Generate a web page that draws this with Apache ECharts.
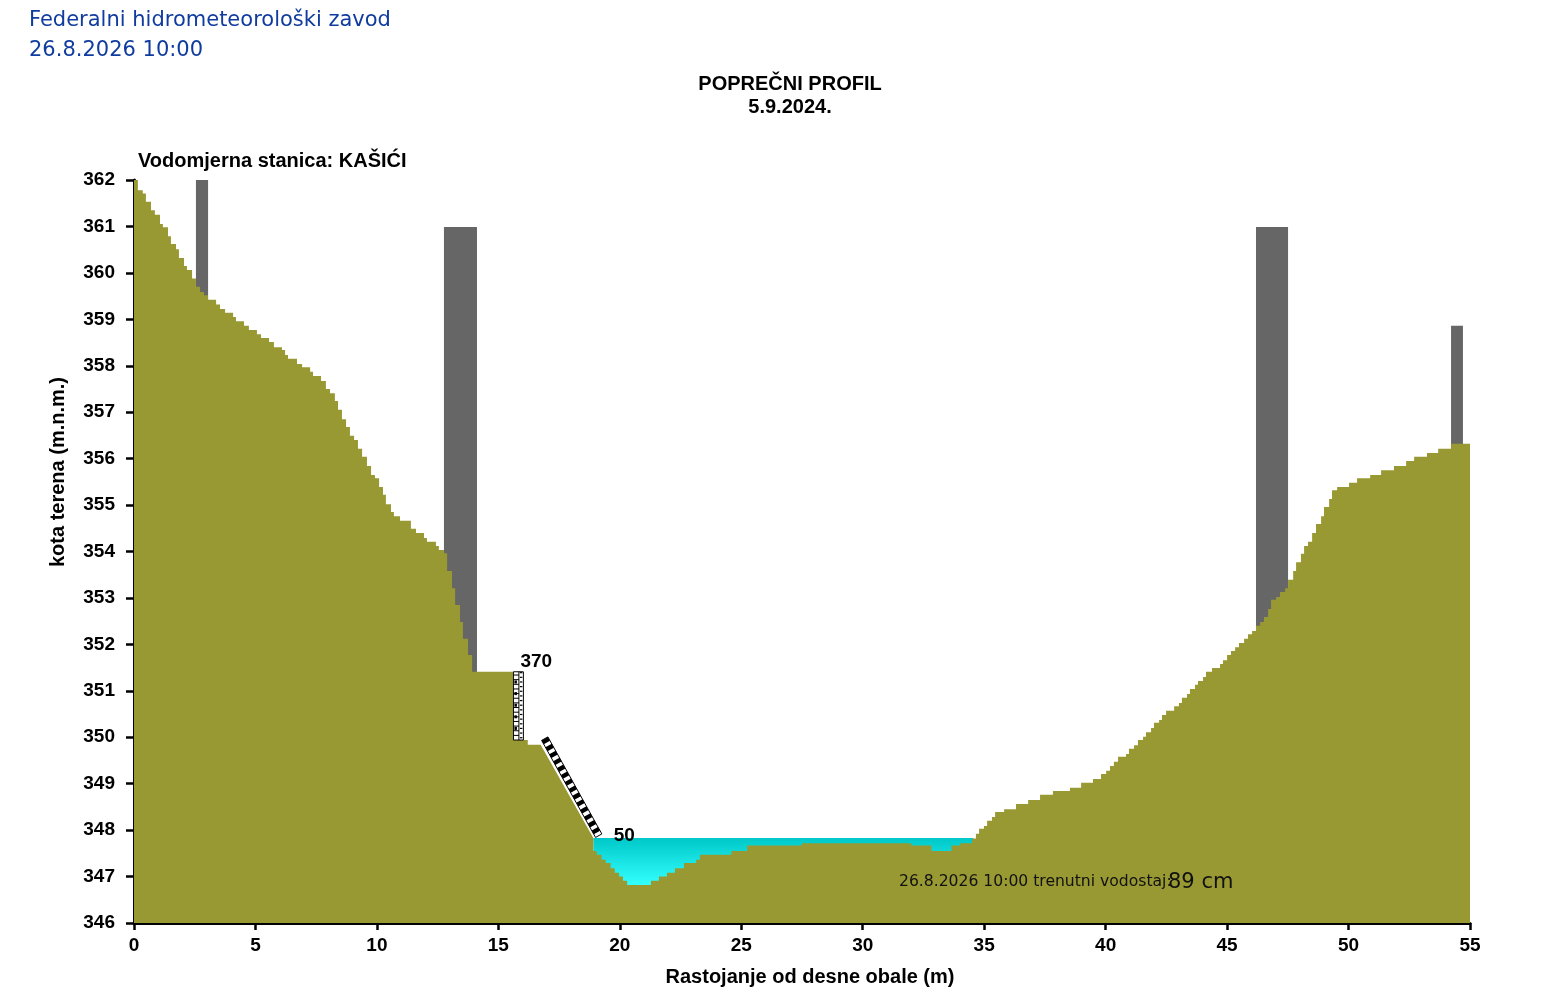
<!DOCTYPE html>
<html>
<head>
<meta charset="utf-8">
<title>Poprečni profil - KAŠIĆI</title>
<script src="https://cdn.jsdelivr.net/npm/echarts@6.0.0/dist/echarts.min.js"></script>
<style>
    html, body { margin: 0; padding: 0; background: #fff; }
    #profil { width: 1550px; height: 1000px; }
</style>
</head>
<body>
<div id="profil"></div>
<script>
// lijeva obala: stacionaža (m) i kota (m.n.m.), stepenasti profil
const obalaX = [0, 0.16, 0.36, 0.49, 0.70, 0.86, 1.07, 1.19, 1.40, 1.52, 1.73, 1.85, 2.06, 2.18, 2.39, 2.55,
    2.72, 2.88, 3.05, 3.38, 3.54, 3.75, 4.08, 4.20, 4.53, 4.73, 5.06, 5.23, 5.56, 5.76, 6.09, 6.22, 6.34,
    6.71, 6.92, 7.25, 7.37, 7.70, 7.90, 8.07, 8.27, 8.40, 8.56, 8.73, 8.89, 9.06, 9.22, 9.39, 9.59, 9.76,
    9.92, 10.09, 10.25, 10.37, 10.58, 10.70, 10.95, 11.40, 11.61, 11.94, 12.06, 12.43, 12.55, 12.76, 12.89,
    13.09, 13.22, 13.42, 13.54, 13.75, 13.92, 15.60, 16.21];
const obalaY = [362.00, 361.78, 361.71, 361.53, 361.35, 361.25, 361.05, 360.98, 360.79, 360.62, 360.51, 360.32,
    360.15, 360.06, 359.88, 359.70, 359.59, 359.52, 359.42, 359.32, 359.22, 359.14, 359.05, 358.96, 358.86,
    358.77, 358.68, 358.60, 358.51, 358.40, 358.34, 358.23, 358.15, 358.04, 357.97, 357.87, 357.78, 357.67,
    357.50, 357.41, 357.24, 357.05, 356.85, 356.68, 356.49, 356.40, 356.21, 356.04, 355.84, 355.65, 355.58,
    355.39, 355.22, 355.02, 354.85, 354.76, 354.66, 354.49, 354.40, 354.29, 354.21, 354.12, 354.03, 353.96,
    353.58, 353.21, 352.85, 352.48, 352.12, 351.77, 351.41, 349.94, 349.84];

// kosina ispod kose letve
const kosinaX = [16.74, 18.91];
const kosinaY = [349.84, 347.83];

// korito i desna obala
const koritoX = [18.91, 19.05, 19.25, 19.42, 19.62, 19.79, 19.97, 20.13, 20.30, 21.28, 21.61, 21.94, 22.27,
    22.64, 23.14, 23.30, 24.59, 25.24, 27.49, 32.00, 32.83, 33.65, 34.01, 34.50, 34.66, 34.79, 34.99, 35.12,
    35.32, 35.45, 35.82, 36.31, 36.81, 37.30, 37.83, 38.53, 38.99, 39.48, 39.81, 40.02, 40.18, 40.34, 40.51,
    40.84, 40.96, 41.17, 41.33, 41.54, 41.66, 41.87, 41.99, 42.20, 42.32, 42.49, 42.82, 43.02, 43.14, 43.35,
    43.47, 43.68, 43.80, 44.01, 44.13, 44.38, 44.71, 44.83, 45.00, 45.16, 45.33, 45.49, 45.70, 45.86, 46.03,
    46.19, 46.36, 46.52, 46.69, 46.81, 47.02, 47.18, 47.39, 47.51, 47.72, 47.84, 48.04, 48.17, 48.33, 48.50,
    48.66, 48.87, 48.99, 49.20, 49.32, 49.53, 50.02, 50.35, 50.89, 51.34, 51.87, 52.37, 52.70, 53.23, 53.69,
    54.22];
const koritoY = [347.55, 347.47, 347.36, 347.29, 347.18, 347.08, 347.00, 346.91, 346.82, 346.91, 347.00, 347.08,
    347.18, 347.29, 347.36, 347.47, 347.55, 347.67, 347.72, 347.67, 347.55, 347.67, 347.72, 347.82, 347.92,
    348.03, 348.09, 348.20, 348.28, 348.39, 348.45, 348.56, 348.65, 348.76, 348.84, 348.91, 349.02, 349.10,
    349.21, 349.28, 349.38, 349.47, 349.58, 349.64, 349.75, 349.83, 349.94, 350.01, 350.11, 350.20, 350.31,
    350.37, 350.48, 350.57, 350.67, 350.74, 350.85, 350.93, 351.04, 351.13, 351.21, 351.30, 351.41, 351.49,
    351.58, 351.66, 351.77, 351.86, 351.94, 352.03, 352.12, 352.22, 352.29, 352.40, 352.48, 352.59, 352.76,
    352.96, 353.02, 353.13, 353.21, 353.39, 353.58, 353.77, 353.95, 354.12, 354.21, 354.40, 354.59, 354.76,
    354.96, 355.13, 355.32, 355.39, 355.48, 355.58, 355.65, 355.75, 355.84, 355.95, 356.04, 356.12, 356.21,
    356.32];
const krajX = 55;

// stubovi / objekti: [od, do, kota vrha]
const stubovi = [
    [2.55, 3.05, 362.00],
    [12.76, 14.12, 360.99],
    [46.19, 47.51, 360.99],
    [54.22, 54.71, 358.86]
];

// voda: [od, do, kota vodostaja, kota dna]
const voda = [[18.91, 34.55, 347.83, 346.82]];

// letve: vertikalna [od, do, vrh, dno], kosa [x1, y1, x2, y2]
const letvaV = [[15.62, 16.03, 351.41, 349.94]];
const letvaK = [[16.91, 349.97, 19.13, 347.88]];
const letvaVTekst = '370';
const letvaKTekst = '50';

const xTicks = { min: 0, max: 55, interval: 5 };
const yTicks = { min: 346, max: 362, interval: 1 };

const datum = '26.8.2026 10:00';
const vodostaj = '89 cm';

const boldFont = '"Liberation Sans", Arial, sans-serif';
const plava = '#0f3c9e';

function stepenice(xs, ys, xKraj) {
    const pts = [];
    xs.forEach(function(x, i) {
        const x2 = i < xs.length - 1 ? xs[i + 1] : xKraj;
        pts.push([x, ys[i]], [x2, ys[i]]);
    });
    return pts;
}

const teren = stepenice(obalaX, obalaY, kosinaX[0])
    .concat(kosinaX.map(function(x, i) { return [x, kosinaY[i]]; }))
    .concat(stepenice(koritoX, koritoY, krajX));

const chart = echarts.init(document.getElementById('profil'));

const option = {
    animation: false,
    backgroundColor: '#fff',
    grid: { left: 134, right: 80, top: 180, bottom: 77 },
    xAxis: {
        type: 'value',
        min: xTicks.min,
        max: xTicks.max,
        interval: xTicks.interval,
        name: 'Rastojanje od desne obale (m)',
        nameLocation: 'middle',
        nameGap: 44,
        nameTextStyle: {
            fontFamily: boldFont, fontWeight: 'bold', fontSize: 20, color: '#000',
            padding: [0, 0, 0, 16]
        },
        axisLine: { show: true, onZero: false, lineStyle: { color: '#000', width: 3 } },
        axisTick: { show: true, length: 7, lineStyle: { color: '#000', width: 2.5 } },
        axisLabel: { margin: 13, fontFamily: boldFont, fontWeight: 'bold', fontSize: 19, color: '#000' },
        splitLine: { show: false }
    },
    yAxis: {
        type: 'value',
        min: yTicks.min,
        max: yTicks.max,
        interval: yTicks.interval,
        axisLine: { show: true, onZero: false, lineStyle: { color: '#000', width: 3 } },
        axisTick: { show: true, length: 8, lineStyle: { color: '#000', width: 2.5 } },
        axisLabel: { margin: 19, fontFamily: boldFont, fontWeight: 'bold', fontSize: 19, color: '#000' },
        splitLine: { show: false }
    },
    graphic: [
        {
            type: 'text', left: 29, top: 10, z: 10,
            style: { text: 'Federalni hidrometeorološki zavod', font: '21px "DejaVu Sans", sans-serif', fill: plava }
        },
        {
            type: 'text', left: 29, top: 40, z: 10,
            style: { text: datum, font: '21px "DejaVu Sans", sans-serif', fill: plava }
        },
        {
            type: 'text', x: 790, y: 84.5, z: 10,
            style: { text: 'POPREČNI PROFIL', font: 'bold 20px ' + boldFont, fill: '#000',
                textAlign: 'center', textVerticalAlign: 'middle' }
        },
        {
            type: 'text', x: 790, y: 107, z: 10,
            style: { text: '5.9.2024.', font: 'bold 20px ' + boldFont, fill: '#000',
                textAlign: 'center', textVerticalAlign: 'middle' }
        },
        {
            type: 'text', x: 138, y: 161, z: 10,
            style: { text: 'Vodomjerna stanica: KAŠIĆI', font: 'bold 20px ' + boldFont, fill: '#000',
                textAlign: 'left', textVerticalAlign: 'middle' }
        },
        {
            type: 'text', x: 58, y: 472, rotation: Math.PI / 2, z: 10,
            style: { text: 'kota terena (m.n.m.)', font: 'bold 20px ' + boldFont, fill: '#000',
                textAlign: 'center', textVerticalAlign: 'middle' }
        },
        {
            type: 'text', x: 899, y: 882, z: 10,
            style: { text: datum + ' trenutni vodostaj:', font: '15.6px "DejaVu Sans", sans-serif', fill: '#111',
                textAlign: 'left', textVerticalAlign: 'middle' }
        },
        {
            type: 'text', x: 1168, y: 883, z: 10,
            style: { text: vodostaj, font: '21px "DejaVu Sans", sans-serif', fill: '#111',
                textAlign: 'left', textVerticalAlign: 'middle' }
        }
    ],
    series: [
        {
            // voda u koritu
            type: 'custom',
            z: 1,
            data: voda,
            encode: { x: [0, 1], y: [2, 3] },
            renderItem: function(params, api) {
                const a = api.coord([api.value(0), api.value(2)]);
                const b = api.coord([api.value(1), api.value(3)]);
                return {
                    type: 'rect',
                    shape: { x: a[0], y: a[1], width: b[0] - a[0], height: b[1] - a[1] },
                    style: {
                        fill: new echarts.graphic.LinearGradient(0, 0, 0, 1, [
                            { offset: 0, color: '#00c8c8' },
                            { offset: 1, color: '#33ffff' }
                        ])
                    }
                };
            }
        },
        {
            // stubovi
            type: 'custom',
            z: 2,
            data: stubovi,
            encode: { x: [0, 1], y: 2 },
            renderItem: function(params, api) {
                const a = api.coord([api.value(0), api.value(2)]);
                const b = api.coord([api.value(1), yTicks.min]);
                return {
                    type: 'rect',
                    shape: { x: a[0], y: a[1], width: b[0] - a[0], height: b[1] - a[1] },
                    style: { fill: '#666666' }
                };
            }
        },
        {
            // teren
            type: 'line',
            z: 3,
            data: teren,
            symbol: 'none',
            lineStyle: { width: 0 },
            areaStyle: { color: '#999933', opacity: 1, origin: 'start' }
        },
        {
            // vertikalna letva
            type: 'custom',
            z: 4,
            data: letvaV,
            encode: { x: [0, 1], y: [2, 3] },
            renderItem: function(params, api) {
                const x0 = api.value(0), x1 = api.value(1), top = api.value(2), bot = api.value(3);
                const a = api.coord([x0, top]);
                const b = api.coord([x1, bot]);
                const mid = a[0] + (b[0] - a[0]) * 0.55;
                const children = [
                    { type: 'rect', shape: { x: a[0], y: a[1], width: b[0] - a[0], height: b[1] - a[1] },
                      style: { fill: '#fff', stroke: '#000', lineWidth: 1 } },
                    { type: 'line', shape: { x1: mid, y1: a[1], x2: mid, y2: b[1] },
                      style: { stroke: '#000', lineWidth: 1 } }
                ];
                for (let k = 1; k * 0.05 < top - bot; k++) {
                    const y = api.coord([x0, bot + k * 0.05])[1];
                    if (k % 2 === 0) {
                        children.push({ type: 'line', shape: { x1: a[0], y1: y, x2: mid, y2: y },
                            style: { stroke: '#000', lineWidth: 1 } });
                    } else {
                        children.push({ type: 'line', shape: { x1: mid + 1, y1: y, x2: b[0] - 1, y2: y },
                            style: { stroke: '#000', lineWidth: 1.2 } });
                    }
                    if (k % 5 === 0) {
                        children.push({ type: 'rect', shape: { x: a[0] + 1, y: y - 1.5, width: 2.5, height: 3 },
                            style: { fill: '#000' } });
                    }
                }
                children.push({
                    type: 'text', x: a[0] + 7, y: a[1] - 10,
                    style: { text: letvaVTekst, font: 'bold 19px ' + boldFont, fill: '#000',
                        textAlign: 'left', textVerticalAlign: 'middle' }
                });
                return { type: 'group', children: children };
            }
        },
        {
            // kosa letva
            type: 'custom',
            z: 4,
            data: letvaK,
            encode: { x: [0, 2], y: [1, 3] },
            renderItem: function(params, api) {
                const a = api.coord([api.value(0), api.value(1)]);
                const b = api.coord([api.value(2), api.value(3)]);
                const dx = b[0] - a[0], dy = b[1] - a[1];
                const len = Math.sqrt(dx * dx + dy * dy);
                const nx = -dy / len * 3.6, ny = dx / len * 3.6;
                const at = function(t, s) {
                    return [a[0] + dx * t + nx * s, a[1] + dy * t + ny * s];
                };
                const children = [{
                    type: 'polygon',
                    shape: { points: [at(0, 1), at(1, 1), at(1, -1), at(0, -1)] },
                    style: { fill: '#fff', stroke: '#000', lineWidth: 1 }
                }];
                const n = 14;
                for (let k = 0; k < n; k++) {
                    const t0 = k / n, t1 = (k + 0.55) / n;
                    children.push({
                        type: 'polygon',
                        shape: { points: [at(t0, 1), at(t1, 1), at(t1, -1), at(t0, -1)] },
                        style: { fill: '#000' }
                    });
                }
                children.push({
                    type: 'text', x: b[0] + 15, y: b[1],
                    style: { text: letvaKTekst, font: 'bold 19px ' + boldFont, fill: '#000',
                        textAlign: 'left', textVerticalAlign: 'middle' }
                });
                return { type: 'group', children: children };
            }
        }
    ]
};

chart.setOption(option);

window.onresize = function() {
    chart.resize();
};
</script>
</body>
</html>
